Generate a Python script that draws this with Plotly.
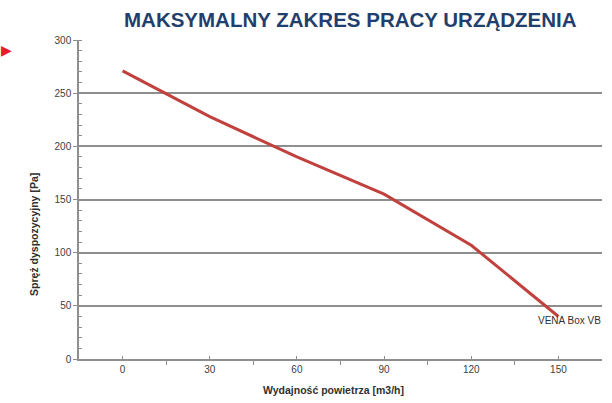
import plotly.graph_objects as go

flow = [0, 30, 60, 90, 120, 150]
pressure = [271, 228, 190, 155, 107, 40]
series_name = "VENA Box VB"
title = "MAKSYMALNY ZAKRES PRACY URZĄDZENIA"
x_title = "Wydajność powietrza [m3/h]"
y_title = "Spręż dyspozycyjny [Pa]"

fig = go.Figure()
fig.add_trace(go.Scatter(x=flow, y=pressure, mode="lines", name=series_name,
                         line=dict(color="#C0413D", width=3)))

grid = "#8E8E8E"
fig.update_layout(
    width=612, height=403,
    margin=dict(l=79, r=10, t=40, b=44),
    paper_bgcolor="white", plot_bgcolor="white",
    showlegend=False,
    font=dict(family="Liberation Sans", size=10, color="#404040"),
)
fig.update_xaxes(range=[-15, 165], tickvals=flow, ticks="inside", ticklen=3,
                 tickcolor=grid, showgrid=False, showline=True, linecolor=grid,
                 linewidth=1.5, zeroline=False,
                 minor=dict(tickvals=[-15, 15, 45, 75, 105, 135, 165], ticks="outside",
                            ticklen=4, tickcolor=grid),
                 tickfont=dict(size=10, color="#404040"))
fig.update_yaxes(range=[0, 300], dtick=50, ticks="outside", ticklen=4, tickcolor=grid,
                 showgrid=True, gridcolor=grid, gridwidth=1.5, showline=True,
                 linecolor=grid, linewidth=1.5, zeroline=False,
                 minor=dict(dtick=10, ticks="inside", ticklen=3, tickcolor=grid, showgrid=False),
                 tickfont=dict(size=10, color="#404040"))

fig.add_annotation(text="<b>" + title + "</b>", xref="paper", yref="paper",
                   x=0.52, y=1.0, yshift=21, xanchor="center", yanchor="middle",
                   showarrow=False,
                   font=dict(family="Liberation Sans", size=20.5, color="#1F3F6E"))
fig.add_annotation(text="<b>" + x_title + "</b>", xref="paper", yref="paper",
                   x=0.486, y=0, yshift=-31, xanchor="center", yanchor="middle",
                   showarrow=False, font=dict(size=10.5, color="#303030"))
fig.add_annotation(text="<b>" + y_title + "</b>", xref="paper", yref="paper",
                   x=0, xshift=-45, y=0.389, textangle=-90, xanchor="center",
                   yanchor="middle", showarrow=False, font=dict(size=10.5, color="#303030"))
fig.add_annotation(text=series_name, x=flow[-1], y=pressure[-1], xref="x", yref="y",
                   xshift=11, yshift=-4, xanchor="center", yanchor="middle",
                   showarrow=False, font=dict(size=10, color="#303030"))
fig.add_annotation(text="▶", xref="paper", yref="paper", x=0, xshift=-73, y=1.0,
                   yshift=-10, xanchor="center", yanchor="middle", showarrow=False,
                   font=dict(size=14, color="#E3202A"))

fig.write_html("out.html", config={"displayModeBar": False},
               post_script="document.body.style.margin='0';")
